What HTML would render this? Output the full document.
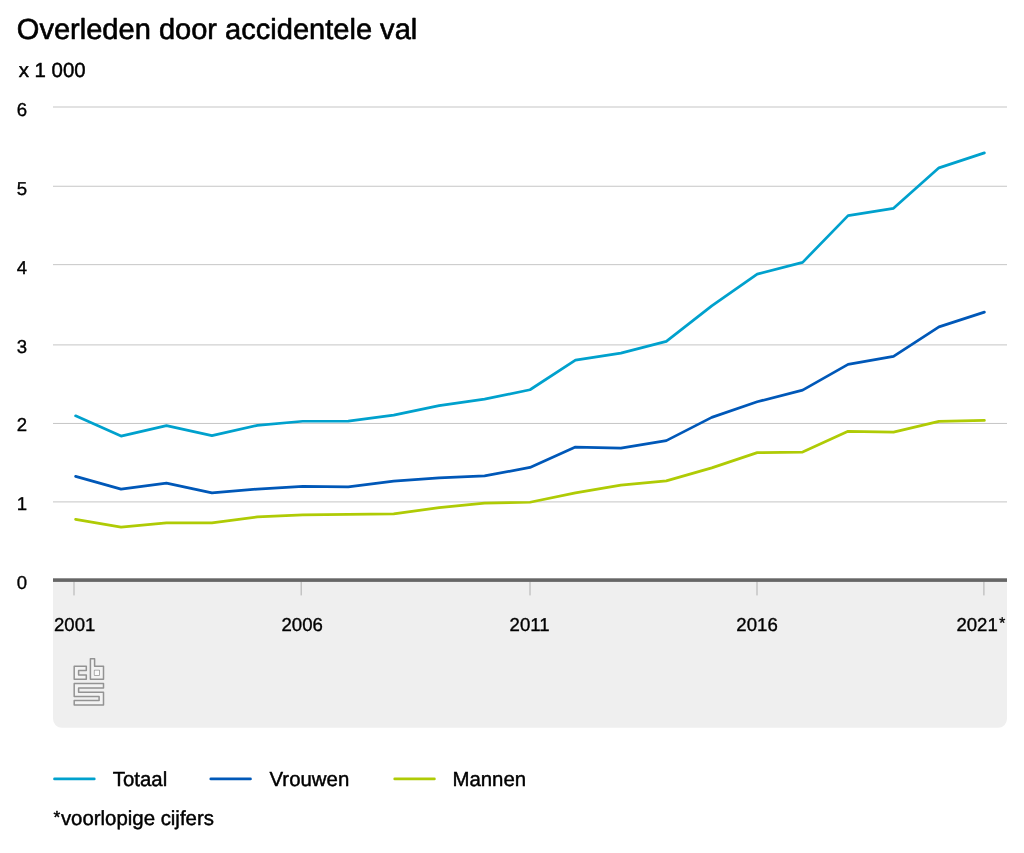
<!DOCTYPE html>
<html lang="nl">
<head>
<meta charset="utf-8">
<title>Overleden door accidentele val</title>
<style>
html,body{margin:0;padding:0;background:#fff;}
body{width:1024px;height:853px;overflow:hidden;font-family:"Liberation Sans",Arial,Helvetica,sans-serif;}
svg{display:block;}
text{font-family:"Liberation Sans",Arial,Helvetica,sans-serif;fill:#000;stroke:#000;stroke-width:0.35px;stroke-linejoin:round;text-rendering:geometricPrecision;}
.ttl{stroke-width:0.6px;}
.ttl{font-size:29.05px;}
.sub{font-size:20.4px;stroke-width:0.45px;}
.ax{font-size:18.6px;}
.lg{font-size:20.4px;stroke-width:0.45px;}
.fn{font-size:20.4px;stroke-width:0.45px;}
</style>
</head>
<body>
<svg width="1024" height="853" viewBox="0 0 1024 853">
<rect width="1024" height="853" fill="#fff"/>
<text x="16.8" y="39" class="ttl">Overleden door accidentele val</text>
<text x="18.7" y="76.5" class="sub">x 1 000</text>
<!-- grey footer box -->
<path d="M53 581 H1007 V718.8 a9 9 0 0 1 -9 9 H62 a9 9 0 0 1 -9 -9 Z" fill="#efefef"/>
<!-- gridlines -->
<rect x="53" y="106.50" width="954" height="1" fill="#c6c6c6"/>
<rect x="53" y="185.75" width="954" height="1" fill="#c6c6c6"/>
<rect x="53" y="264.15" width="954" height="1" fill="#c6c6c6"/>
<rect x="53" y="344.40" width="954" height="1" fill="#c6c6c6"/>
<rect x="53" y="422.95" width="954" height="1" fill="#c6c6c6"/>
<rect x="53" y="501.40" width="954" height="1" fill="#c6c6c6"/>
<!-- y labels -->
<text x="16.8" y="589.00" class="ax">0</text>
<text x="16.8" y="510.22" class="ax">1</text>
<text x="16.8" y="431.44" class="ax">2</text>
<text x="16.8" y="352.66" class="ax">3</text>
<text x="16.8" y="273.88" class="ax">4</text>
<text x="16.8" y="195.10" class="ax">5</text>
<text x="16.8" y="116.32" class="ax">6</text>
<!-- series -->
<g fill="none" stroke-width="2.7" stroke-linejoin="round" stroke-linecap="round">
<path d="M75.60 519.35 L121.04 527.10 L166.48 522.85 L211.92 522.85 L257.36 516.85 L302.80 514.85 L348.24 514.35 L393.68 513.85 L439.12 507.60 L484.56 503.10 L530.00 502.25 L575.44 492.85 L620.88 485.10 L666.32 480.85 L711.76 467.85 L757.20 452.60 L802.64 452.10 L848.08 431.35 L893.52 432.10 L938.96 421.35 L984.40 420.35" stroke="#afcb05"/>
<path d="M75.60 476.35 L121.04 489.10 L166.48 483.10 L211.92 492.85 L257.36 489.10 L302.80 486.45 L348.24 486.85 L393.68 481.10 L439.12 477.85 L484.56 475.85 L530.00 467.45 L575.44 447.10 L620.88 448.10 L666.32 440.60 L711.76 417.35 L757.20 401.75 L802.64 390.10 L848.08 364.35 L893.52 356.35 L938.96 326.85 L984.40 312.10" stroke="#0058b8"/>
<path d="M75.60 415.85 L121.04 436.10 L166.48 425.60 L211.92 435.60 L257.36 425.35 L302.80 421.25 L348.24 421.10 L393.68 415.10 L439.12 405.60 L484.56 399.10 L530.00 389.75 L575.44 360.10 L620.88 353.10 L666.32 341.35 L711.76 305.85 L757.20 274.10 L802.64 262.35 L848.08 215.60 L893.52 208.35 L938.96 167.85 L984.40 152.85" stroke="#00a1cd"/>
</g>
<!-- axis -->
<rect x="73.40" y="581.5" width="1.2" height="13.9" fill="#b9b9b9"/>
<rect x="300.60" y="581.5" width="1.2" height="13.9" fill="#b9b9b9"/>
<rect x="529.40" y="581.5" width="1.2" height="13.9" fill="#b9b9b9"/>
<rect x="756.40" y="581.5" width="1.2" height="13.9" fill="#b9b9b9"/>
<rect x="983.30" y="581.5" width="1.2" height="13.9" fill="#b9b9b9"/>
<rect x="53" y="578.3" width="954" height="3.6" fill="#666"/>
<text x="74.70" y="631.2" class="ax" text-anchor="middle">2001</text>
<text x="302.15" y="631.2" class="ax" text-anchor="middle">2006</text>
<text x="529.60" y="631.2" class="ax" text-anchor="middle">2011</text>
<text x="757.05" y="631.2" class="ax" text-anchor="middle">2016</text>
<text x="956.4" y="631.2" class="ax">2021<tspan x="999.3" dy="-3.2" style="font-size:15.5px">*</tspan></text>
<!-- logo -->
<g fill="#f3f3f3" stroke="#939393" stroke-width="1.5" stroke-linejoin="round">
<path d="M74.2 666.2 H86.3 V670.6 H78.6 V674.9 H86.3 V679.2 H74.2 Z"/>
<path d="M90.4 658.8 H94.6 V666.2 H103.5 V679.2 H90.4 Z M94.6 670.5 V675 H99.2 V670.5 Z" fill-rule="evenodd"/>
<rect x="94.6" y="670.5" width="4.6" height="4.5" fill="#f9f9f9" stroke="none"/>
<path d="M74.2 683.4 H103.5 V687.9 H78.6 V692.3 H103.5 V704.9 H74.2 V700.6 H99.1 V696.5 H74.2 Z"/>
</g>
<!-- legend -->
<g fill="none" stroke-width="2.7" stroke-linecap="round">
<path d="M54.5 778.9 H94.3" stroke="#00a1cd"/>
<path d="M210.8 778.9 H250.5" stroke="#0058b8"/>
<path d="M394.7 778.9 H434.4" stroke="#afcb05"/>
</g>
<text x="112.8" y="785.7" class="lg">Totaal</text>
<text x="269.5" y="785.7" class="lg">Vrouwen</text>
<text x="452.4" y="785.7" class="lg">Mannen</text>
<text x="53.4" y="825.2" class="fn"><tspan dy="-2.6" style="font-size:17.4px">*</tspan><tspan x="60.9" dy="2.6">voorlopige cijfers</tspan></text>
</svg>
</body>
</html>
